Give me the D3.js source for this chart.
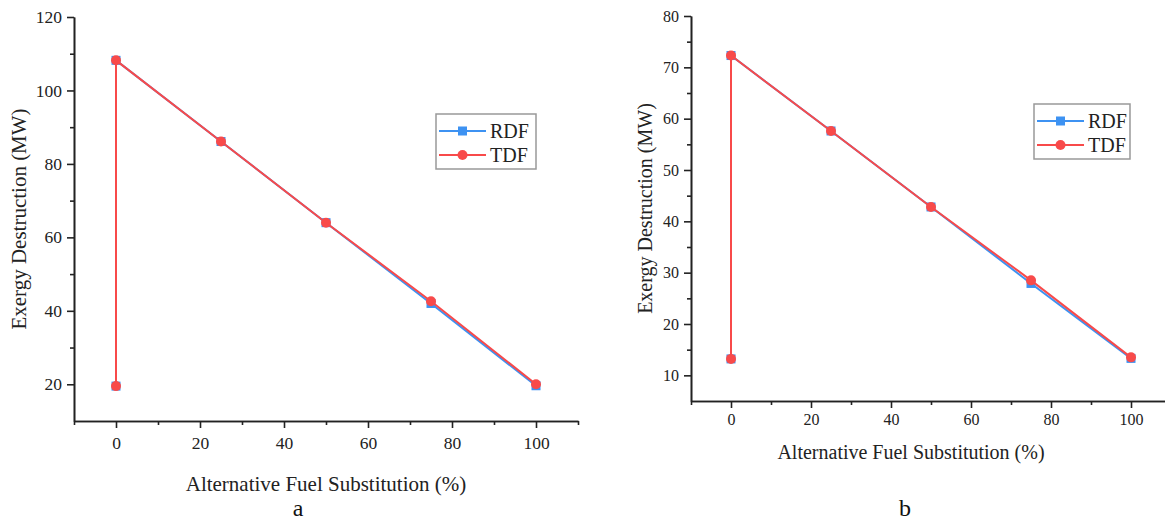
<!DOCTYPE html>
<html>
<head>
<meta charset="utf-8">
<script src="https://cdn.jsdelivr.net/npm/d3@7"></script>
<style>
    body { margin: 0; background: #fff; }
    svg { display: block; font-family: "Liberation Serif", "Times New Roman", serif; }
</style>
</head>
<body>
<svg id="chart" width="1165" height="526"></svg>
<script>
// data
const substitution = [0, 0, 25, 50, 75, 100];
const rdfA = [19.5, 108.2, 86.1, 64.0, 42.0, 19.6];
const tdfA = [19.5, 108.2, 86.1, 64.0, 42.6, 20.0];
const rdfB = [13.2, 72.3, 57.6, 42.8, 27.9, 13.3];
const tdfB = [13.2, 72.3, 57.6, 42.8, 28.5, 13.5];
const xTicks = [0, 20, 40, 60, 80, 100];
const yTicksA = [20, 40, 60, 80, 100, 120];
const yTicksB = [10, 20, 30, 40, 50, 60, 70, 80];
const seriesNames = ["RDF", "TDF"];
const seriesColors = ["#3d92f2", "#f84a4a"];

const svg = d3.select("#chart");
const serif = "'Liberation Serif', 'Times New Roman', serif";

function drawPanel(opt) {
    const g = svg.append("g");

    const x = d3.scaleLinear().domain([-10, 110]).range(opt.xRange);
    const y = d3.scaleLinear().domain(opt.yDomain).range(opt.yRange);
    const x0 = opt.xRange[0], yBase = opt.yRange[0];

    // minor ticks first
    const xMinor = d3.range(-10, 111, 10).filter(v => !xTicks.includes(v));
    g.append("g")
        .attr("transform", `translate(0,${yBase})`)
        .call(d3.axisBottom(x).tickValues(xMinor).tickFormat("").tickSize(4).tickSizeOuter(0));
    g.append("g")
        .attr("transform", `translate(${x0},0)`)
        .call(d3.axisLeft(y).tickValues(opt.yMinor).tickFormat("").tickSize(4).tickSizeOuter(0));

    // major ticks with labels
    g.append("g")
        .attr("transform", `translate(0,${yBase})`)
        .call(d3.axisBottom(x).tickValues(xTicks).tickSize(7).tickSizeOuter(0).tickPadding(opt.xPad))
        .attr("font-family", serif)
        .attr("font-size", opt.tickFont);
    g.append("g")
        .attr("transform", `translate(${x0},0)`)
        .call(d3.axisLeft(y).tickValues(opt.yTicks).tickSize(7).tickSizeOuter(0).tickPadding(5))
        .attr("font-family", serif)
        .attr("font-size", opt.tickFont);

    g.selectAll(".domain, .tick line").attr("stroke", "#222").attr("stroke-width", 1.6);
    g.selectAll(".tick text").attr("fill", "#222");

    // axis titles
    g.append("text")
        .attr("x", (opt.xRange[0] + opt.xRange[1]) / 2 + opt.xTitleShift)
        .attr("y", opt.xTitleY)
        .attr("text-anchor", "middle")
        .attr("fill", "#222")
        .style("font-size", opt.titleFont + "px")
        .text("Alternative Fuel Substitution (%)");

    g.append("text")
        .attr("transform", `translate(${opt.yTitleX},${(opt.yRange[0] + opt.yRange[1]) / 2}) rotate(-90)`)
        .attr("text-anchor", "middle")
        .attr("fill", "#222")
        .style("font-size", opt.titleFont + "px")
        .text("Exergy Destruction (MW)");

    // panel letter
    g.append("text")
        .attr("x", opt.letterX)
        .attr("y", 516)
        .attr("text-anchor", "middle")
        .attr("fill", "#111")
        .style("font-size", "24px")
        .text(opt.letter);

    const line = d3.line()
        .x((d, i) => x(substitution[i]))
        .y(d => y(d));

    // RDF: squares
    g.append("path")
        .datum(opt.rdf)
        .attr("fill", "none")
        .attr("stroke", seriesColors[0])
        .attr("stroke-width", 2)
        .attr("d", line);
    g.selectAll(".sq")
        .data(opt.rdf)
        .enter().append("rect")
        .attr("x", (d, i) => x(substitution[i]) - 4.5)
        .attr("y", d => y(d) - 4.5)
        .attr("width", 9)
        .attr("height", 9)
        .attr("fill", seriesColors[0]);

    // TDF: circles
    g.append("path")
        .datum(opt.tdf)
        .attr("fill", "none")
        .attr("stroke", seriesColors[1])
        .attr("stroke-width", 2)
        .attr("d", line);
    g.selectAll(".dot")
        .data(opt.tdf)
        .enter().append("circle")
        .attr("cx", (d, i) => x(substitution[i]))
        .attr("cy", d => y(d))
        .attr("r", 5)
        .attr("fill", seriesColors[1]);

    // legend
    const lg = g.append("g").attr("transform", `translate(${opt.legend[0]},${opt.legend[1]})`);
    lg.append("rect")
        .attr("width", opt.legendW)
        .attr("height", 55)
        .attr("fill", "#fff")
        .attr("stroke", "#999")
        .attr("stroke-width", 1.5);
    seriesNames.forEach((name, i) => {
        const ry = 17 + i * 24;
        lg.append("line")
            .attr("x1", 3).attr("x2", 50)
            .attr("y1", ry).attr("y2", ry)
            .attr("stroke", seriesColors[i])
            .attr("stroke-width", 2);
        if (i === 0) {
            lg.append("rect")
                .attr("x", 22).attr("y", ry - 4.5)
                .attr("width", 9).attr("height", 9)
                .attr("fill", seriesColors[i]);
        } else {
            lg.append("circle")
                .attr("cx", 26.5).attr("cy", ry)
                .attr("r", 5)
                .attr("fill", seriesColors[i]);
        }
        lg.append("text")
            .attr("x", 54)
            .attr("y", ry)
            .attr("dy", "0.35em")
            .attr("fill", "#222")
            .style("font-size", "20px")
            .text(name);
    });
}

drawPanel({
    xRange: [74, 578], yDomain: [10, 120], yRange: [421, 17],
    yTicks: yTicksA, yMinor: [30, 50, 70, 90, 110],
    rdf: rdfA, tdf: tdfA,
    tickFont: 17.5, titleFont: 21, xPad: 9,
    xTitleY: 491, xTitleShift: 0, yTitleX: 26,
    letter: "a", letterX: 298,
    legend: [436, 114], legendW: 100
});

drawPanel({
    xRange: [691, 1171], yDomain: [5, 80], yRange: [401, 16],
    yTicks: yTicksB, yMinor: [15, 25, 35, 45, 55, 65, 75],
    rdf: rdfB, tdf: tdfB,
    tickFont: 16, titleFont: 20, xPad: 6,
    xTitleY: 459, xTitleShift: -20, yTitleX: 652,
    letter: "b", letterX: 905,
    legend: [1034, 104], legendW: 96
});
</script>
</body>
</html>
